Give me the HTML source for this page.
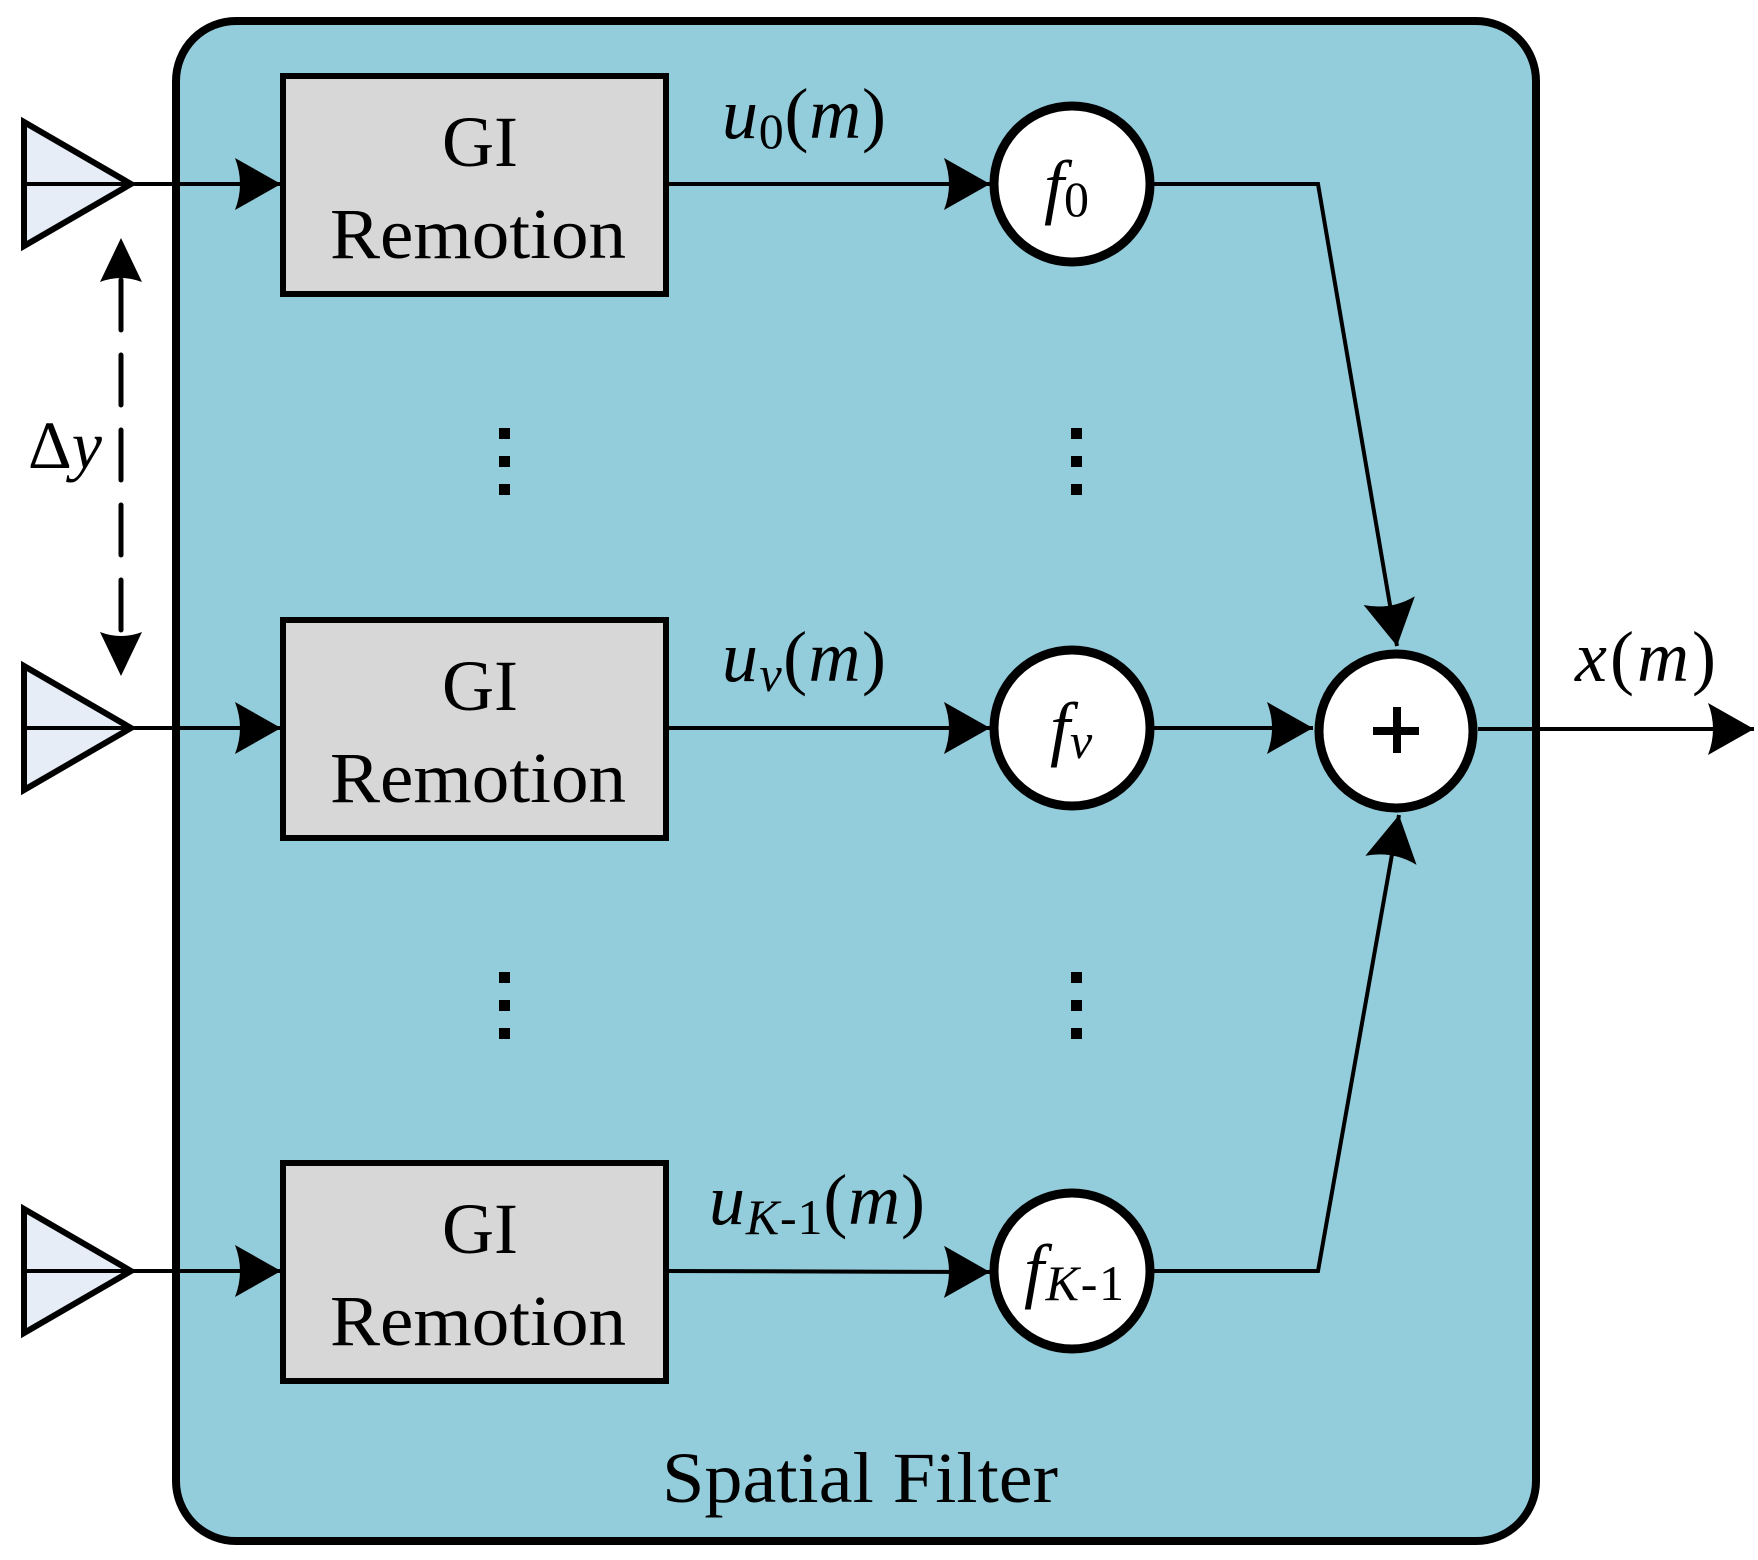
<!DOCTYPE html>
<html><head><meta charset="utf-8"><style>html,body{margin:0;padding:0;background:#fff}svg{display:block}</style></head>
<body>
<svg width="1758" height="1560" viewBox="0 0 1758 1560" xmlns="http://www.w3.org/2000/svg" style="font-family:'Liberation Serif',serif">
<defs>
<marker id="ah" viewBox="0 0 46 52" refX="46" refY="26" markerWidth="46" markerHeight="52" markerUnits="userSpaceOnUse" orient="auto">
<path d="M0,0 L46,26 L0,52 Q10,26 0,0 Z" fill="#000"/>
</marker>
</defs>
<rect x="176" y="21" width="1360" height="1520" rx="60" ry="60" fill="#93ccda" stroke="#000" stroke-width="8"/>
<g id="row">
<polygon points="24,122 131,184 24,246" fill="#e6edf7" stroke="#000" stroke-width="6"/>
<line x1="24" y1="184" x2="131" y2="184" stroke="#000" stroke-width="4"/>
<line x1="131" y1="184" x2="281" y2="184" stroke="#000" stroke-width="4" marker-end="url(#ah)"/>
<rect x="283" y="76" width="383" height="218" fill="#d7d7d7" stroke="#000" stroke-width="6"/>
<text x="480" y="166" font-size="72" text-anchor="middle">GI</text>
<text x="478" y="258" font-size="72" text-anchor="middle" textLength="296" lengthAdjust="spacingAndGlyphs">Remotion</text>
<circle cx="1072" cy="184" r="78" fill="#fff" stroke="#000" stroke-width="9"/>
</g>
<use href="#row" y="544"/>
<use href="#row" y="1087"/>
<line x1="666" y1="184" x2="990" y2="184" stroke="#000" stroke-width="4" marker-end="url(#ah)"/>
<line x1="666" y1="728" x2="990" y2="728" stroke="#000" stroke-width="4" marker-end="url(#ah)"/>
<line x1="666" y1="1271" x2="990" y2="1272" stroke="#000" stroke-width="4" marker-end="url(#ah)"/>
<polyline points="1154,184 1318,184 1397,646" fill="none" stroke="#000" stroke-width="4" marker-end="url(#ah)"/>
<polyline points="1154,1271 1318,1271 1399,815" fill="none" stroke="#000" stroke-width="4" marker-end="url(#ah)"/>
<line x1="1154" y1="728" x2="1313" y2="728" stroke="#000" stroke-width="4" marker-end="url(#ah)"/>
<line x1="1478" y1="729" x2="1754" y2="729" stroke="#000" stroke-width="4" marker-end="url(#ah)"/>
<circle cx="1396" cy="731" r="77" fill="#fff" stroke="#000" stroke-width="9"/>
<rect x="1373" y="727" width="46" height="8" fill="#000"/>
<rect x="1393" y="707" width="8" height="46" fill="#000"/>
<line x1="121" y1="280" x2="121" y2="636" stroke="#000" stroke-width="5" stroke-dasharray="50,25" stroke-linecap="round"/>
<path d="M121,238 L142,282 Q121,274 100,282 Z" fill="#000"/>
<path d="M121,676 L142,632 Q121,640 100,632 Z" fill="#000"/>
<text x="28" y="468" font-size="68">Δ<tspan font-style="italic">y</tspan></text>
<g fill="#000">
<rect x="499" y="428" width="11" height="11"/><rect x="499" y="456" width="11" height="11"/><rect x="499" y="484" width="11" height="11"/>
<rect x="1071" y="428" width="11" height="11"/><rect x="1071" y="456" width="11" height="11"/><rect x="1071" y="484" width="11" height="11"/>
<rect x="499" y="972" width="11" height="11"/><rect x="499" y="1000" width="11" height="11"/><rect x="499" y="1028" width="11" height="11"/>
<rect x="1071" y="972" width="11" height="11"/><rect x="1071" y="1000" width="11" height="11"/><rect x="1071" y="1028" width="11" height="11"/>
</g>
<g font-size="72">
<text x="722" y="138" textLength="164"><tspan font-style="italic">u</tspan><tspan font-size="50" dy="10">0</tspan><tspan dy="-10">(</tspan><tspan font-style="italic">m</tspan>)</text>
<text x="722" y="681" textLength="164"><tspan font-style="italic">u</tspan><tspan font-size="50" font-style="italic" dy="10">v</tspan><tspan dy="-10">(</tspan><tspan font-style="italic">m</tspan>)</text>
<text x="709" y="1224" textLength="216"><tspan font-style="italic">u</tspan><tspan font-size="50" dy="10"><tspan font-style="italic">K</tspan>-1</tspan><tspan dy="-10">(</tspan><tspan font-style="italic">m</tspan>)</text>
<text x="1575" y="681" textLength="141"><tspan font-style="italic">x</tspan>(<tspan font-style="italic">m</tspan>)</text>
<text x="1044" y="210" font-style="italic">f<tspan font-size="50" font-style="normal" dy="6">0</tspan></text>
<text x="1050" y="752" font-style="italic">f<tspan font-size="50" dy="6">v</tspan></text>
<text x="1024" y="1294" font-style="italic" textLength="100">f<tspan font-size="50" dy="6">K<tspan font-style="normal">-1</tspan></tspan></text>
<text x="860" y="1502" font-size="72" text-anchor="middle" textLength="396" lengthAdjust="spacingAndGlyphs">Spatial Filter</text>
</g>
</svg>
</body></html>
